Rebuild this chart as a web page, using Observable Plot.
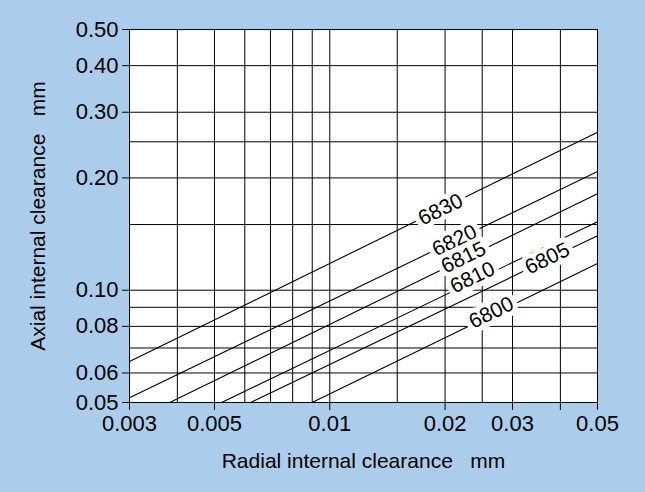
<!DOCTYPE html>
<html>
<head>
<meta charset="utf-8">
<script src="https://cdn.jsdelivr.net/npm/d3@7"></script>
<script src="https://cdn.jsdelivr.net/npm/@observablehq/plot@0.6"></script>
<style>
  html, body { margin: 0; padding: 0; background: #abcdeb; }
  #chart { width: 645px; height: 492px; }
</style>
</head>
<body>
<div id="chart"></div>
<script>
// Series (bearing numbers) and line endpoints
const series = ["6830", "6820", "6815", "6810", "6805", "6800"];
const radialStart = [0.003, 0.003, 0.00382, 0.00522, 0.00621, 0.00899];
const axialStart  = [0.0644, 0.0515, 0.05, 0.05, 0.05, 0.05];
const radialEnd   = [0.05, 0.05, 0.05, 0.05, 0.05, 0.05];
const axialEnd    = [0.265, 0.208, 0.1815, 0.1527, 0.140, 0.118];

// Label positions (annotation anchors)
const labelRadial = [0.01946, 0.02117, 0.02234, 0.02359, 0.03700, 0.02640];
const labelAxial  = [0.1646, 0.1359, 0.1224, 0.1082, 0.1216, 0.0871];

// Grid and ticks
const xGrid = [0.003, 0.004, 0.005, 0.006, 0.007, 0.008, 0.009, 0.01, 0.015, 0.02, 0.025, 0.03, 0.04, 0.05];
const yGrid = [0.05, 0.06, 0.07, 0.08, 0.09, 0.10, 0.15, 0.20, 0.25, 0.30, 0.40, 0.50];
const xTicks = [0.003, 0.005, 0.01, 0.02, 0.03, 0.04, 0.05];
const xTickLabels = ["0.003", "0.005", "0.01", "0.02", "0.03", "", "0.05"];
const yTicks = [0.05, 0.06, 0.08, 0.10, 0.20, 0.30, 0.40, 0.50];
const yTickLabels = ["0.05", "0.06", "0.08", "0.10", "0.20", "0.30", "0.40", "0.50"];

const xTitle = "Radial internal clearance\u00a0\u00a0\u00a0mm";
const yTitle = "Axial internal clearance\u00a0\u00a0\u00a0mm";

const lineData = [];
series.forEach((s, i) => {
  lineData.push({s, x: radialStart[i], y: axialStart[i]});
  lineData.push({s, x: radialEnd[i], y: axialEnd[i]});
});
const labels = series.map((s, i) => ({s, x: labelRadial[i], y: labelAxial[i]}));

const font = "'Liberation Sans', Arial, Helvetica, sans-serif";

const chart = Plot.plot({
  width: 645,
  height: 492,
  marginLeft: 129,
  marginRight: 48,
  marginTop: 29,
  marginBottom: 90,
  style: {background: "#abcdeb", fontFamily: font, fontSize: "22px", color: "#000"},
  x: {
    type: "log", domain: [0.003, 0.05], ticks: xTicks,
    tickFormat: d => xTickLabels[xTicks.indexOf(d)] ?? "",
    tickSize: 8, tickPadding: 5, label: null
  },
  y: {
    type: "log", domain: [0.05, 0.5], ticks: yTicks,
    tickFormat: d => yTickLabels[yTicks.indexOf(d)] ?? "",
    tickSize: 7, tickPadding: 4, label: null
  },
  marks: [
    Plot.frame({fill: "white", stroke: null}),
    Plot.ruleX(xGrid, {stroke: "#000", strokeWidth: 1}),
    Plot.ruleY(yGrid, {stroke: "#000", strokeWidth: 1}),
    Plot.line(lineData, {x: "x", y: "y", z: "s", stroke: "#000", strokeWidth: 1.1}),
    Plot.text(labels, {
      x: "x", y: "y", text: "s", rotate: -26,
      fill: "#000", stroke: "white", strokeWidth: 10, strokeLinejoin: "round", paintOrder: "stroke",
      fontSize: 21, fontFamily: font
    }),
    Plot.text([xTitle], {text: d => d, frameAnchor: "bottom", dy: 65, fontSize: 21, fontFamily: font, fill: "#000"}),
    Plot.text([yTitle], {text: d => d, frameAnchor: "left", textAnchor: "middle", rotate: -90, dx: -91, fontSize: 21, fontFamily: font, fill: "#000"})
  ]
});
document.getElementById("chart").appendChild(chart);
</script>
</body>
</html>
